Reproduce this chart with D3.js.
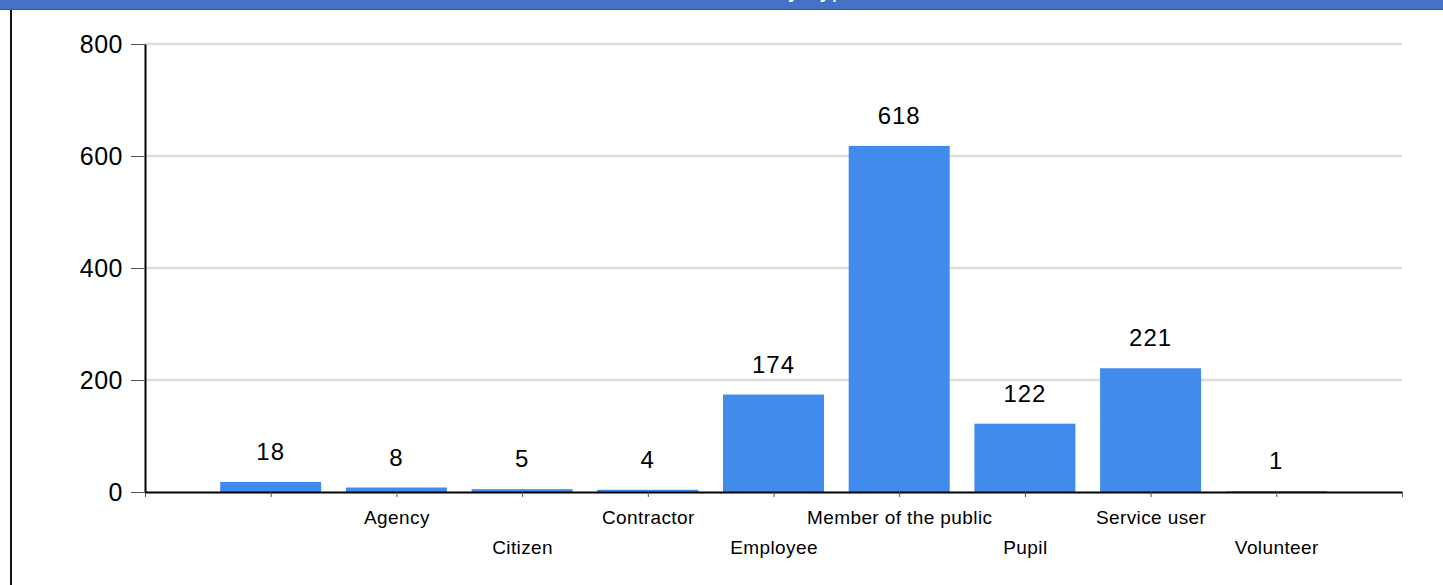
<!DOCTYPE html>
<html>
<head>
  <meta charset="utf-8">
  <script src="https://d3js.org/d3.v7.min.js"></script>
  <style>
    body {
      margin: 0;
      font-family: Arial, "Liberation Sans", sans-serif;
      background: #ffffff;
      overflow: hidden;
    }
    .value_label {
      font-size: 24px;
      letter-spacing: 1px;
      fill: #000000;
      text-anchor: middle;
    }
    .y_axis text {
      font-size: 25px;
      letter-spacing: 0.5px;
      fill: #000000;
    }
    .x_axis text {
      font-size: 19px;
      letter-spacing: 0.4px;
      fill: #000000;
    }
  </style>
  <title>Incidents by person type</title>
</head>
<body>
  <svg></svg>

  <script>
    const categories = ["", "Agency", "Citizen", "Contractor", "Employee",
                        "Member of the public", "Pupil", "Service user", "Volunteer"]
    const counts = [18, 8, 5, 4, 174, 618, 122, 221, 1]
    const yTicks = [0, 200, 400, 600, 800]
    const title = "Incidents by Type of Person"

    const width = 1443
    const height = 585

    const svg = d3.select("svg")
      .attr("width", width)
      .attr("height", height)

    // clipped header band, only the very bottom of the title shows
    svg.append("rect")
      .attr("x", 0).attr("y", 0)
      .attr("width", width).attr("height", 9)
      .attr("fill", "#4472c4")

    svg.append("clipPath").attr("id", "head")
      .append("rect").attr("x", 0).attr("y", 0).attr("width", width).attr("height", 9)

    svg.append("text")
      .attr("clip-path", "url(#head)")
      .attr("x", 820)
      .attr("y", -3)
      .attr("text-anchor", "middle")
      .attr("fill", "#ffffff")
      .style("font-size", "24px")
      .text(title)

    svg.append("line")
      .attr("x1", 0).attr("x2", width)
      .attr("y1", 9.5).attr("y2", 9.5)
      .attr("stroke", "#555555")
      .attr("stroke-width", 1)

    svg.append("line")
      .attr("x1", 11).attr("x2", 11)
      .attr("y1", 10).attr("y2", height)
      .attr("stroke", "#111111")
      .attr("stroke-width", 2)

    const x0 = 145, x1 = 1402
    const xScale = d3.scaleLinear()
      .domain([0, categories.length + 1])
      .range([x0, x1])

    const yScale = d3.scaleLinear()
      .domain([0, 800])
      .range([492, 44])

    const barWidth = 101

    // gridlines
    svg.append("g")
      .selectAll("line")
      .data(yTicks.filter(d => d > 0))
      .enter()
      .append("line")
      .attr("x1", x0).attr("x2", x1)
      .attr("y1", d => yScale(d)).attr("y2", d => yScale(d))
      .attr("stroke", "#dddddd")
      .attr("stroke-width", 2.5)

    // bars
    svg.append("g")
      .selectAll("rect")
      .data(counts)
      .enter()
      .append("rect")
      .attr("x", (d, i) => xScale(i + 1) - barWidth / 2)
      .attr("y", d => yScale(d))
      .attr("width", barWidth)
      .attr("height", d => yScale(0) - yScale(d))
      .attr("fill", (d, i) => i === counts.length - 1 ? "#2a5aa0" : "#418bec")

    // value labels
    svg.append("g")
      .selectAll("text")
      .data(counts)
      .enter()
      .append("text")
      .attr("class", "value_label")
      .attr("x", (d, i) => xScale(i + 1))
      .attr("y", d => yScale(d) - 22)
      .text(d => d)

    // x axis, labels staggered on two rows
    const xAxis = d3.axisBottom(xScale)
      .tickValues(d3.range(0, categories.length + 2))
      .tickFormat(i => (i >= 1 && i <= categories.length) ? categories[i - 1] : "")
      .tickSize(5)
      .tickSizeOuter(0)

    const gx = svg.append("g")
      .attr("class", "x_axis")
      .attr("transform", `translate(0,${yScale(0)})`)
      .call(xAxis)

    gx.select(".domain").attr("stroke", "#000000").attr("stroke-width", 2)
    gx.selectAll(".tick line").attr("stroke", "#555555")
    gx.selectAll(".tick text")
      .attr("y", i => (i % 2 === 0) ? 19 : 49)
      .attr("dy", "0.71em")
      .attr("font-family", null)
      .attr("font-size", null)

    // y axis
    const yAxis = d3.axisLeft(yScale)
      .tickValues(yTicks)
      .tickSize(14)
      .tickSizeOuter(0)
      .tickPadding(8)

    const gy = svg.append("g")
      .attr("class", "y_axis")
      .attr("transform", `translate(${x0},0)`)
      .call(yAxis)

    gy.select(".domain").attr("stroke", "#000000").attr("stroke-width", 2)
    gy.selectAll(".tick line").attr("stroke", "#555555")
    gy.selectAll(".tick text")
      .attr("font-family", null)
      .attr("font-size", null)
  </script>
</body>
</html>
